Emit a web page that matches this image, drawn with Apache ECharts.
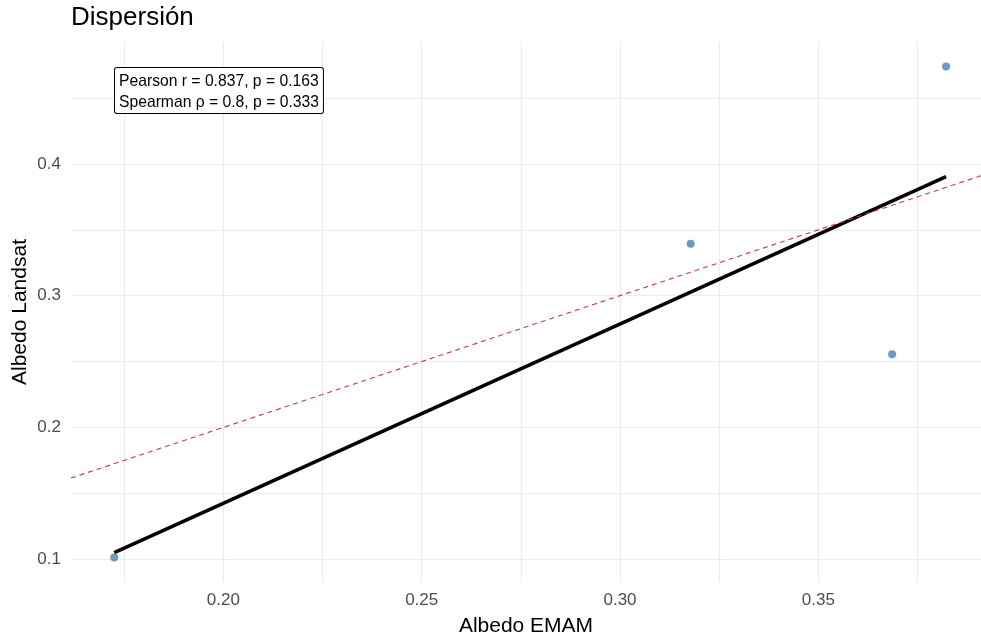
<!DOCTYPE html>
<html><head><meta charset="utf-8">
<script src="https://cdn.jsdelivr.net/npm/echarts@6/dist/echarts.min.js"></script>
<style>html,body{margin:0;padding:0;background:#fff}#c{width:981px;height:638px}</style>
</head><body><div id="c"></div>
<script>
// ---- data ----
const albedoEMAM    = [0.1725, 0.3178, 0.3686, 0.3822];
const albedoLandsat = [0.1013, 0.3393, 0.2555, 0.4739];
const xTickValues  = [0.175, 0.200, 0.225, 0.250, 0.275, 0.300, 0.325, 0.350, 0.375];
const xLabelValues = [0.20, 0.25, 0.30, 0.35];
const yTickValues  = [0.10, 0.15, 0.20, 0.25, 0.30, 0.35, 0.40, 0.45];
const yLabelValues = [0.1, 0.2, 0.3, 0.4];
const xRange = [0.1616, 0.3910];
const yRange = [0.0827, 0.4925];
const annotationLines = ['Pearson r = 0.837, p = 0.163', 'Spearman \u03c1 = 0.8, p = 0.333'];

// least-squares fit (geom_smooth method = "lm")
const n = albedoEMAM.length;
const mx = albedoEMAM.reduce((a, b) => a + b, 0) / n;
const my = albedoLandsat.reduce((a, b) => a + b, 0) / n;
let sxy = 0, sxx = 0;
for (let i = 0; i < n; i++) {
  sxy += (albedoEMAM[i] - mx) * (albedoLandsat[i] - my);
  sxx += (albedoEMAM[i] - mx) ** 2;
}
const slope = sxy / sxx, intercept = my - slope * mx;
const fitX = [Math.min(...albedoEMAM), Math.max(...albedoEMAM)];
const fitData = fitX.map(x => [x, intercept + slope * x]);
const identityData = xRange.map(v => [v, v]);
const points = albedoEMAM.map((x, i) => [x, albedoLandsat[i]]);

const FONT = '"Liberation Sans", Arial, sans-serif';
const chart = echarts.init(document.getElementById('c'), null, {renderer: 'canvas'});
chart.setOption({
  animation: false,
  backgroundColor: '#fff',
  title: {
    text: 'Dispersi\u00f3n', left: 71, top: 5, padding: 0,
    textStyle: {fontSize: 26, fontWeight: 'normal', color: '#000', fontFamily: FONT}
  },
  grid: {left: 71, right: 0, top: 42, bottom: 56, containLabel: false, outerBoundsMode: 'none'},
  xAxis: {
    type: 'value', min: xRange[0], max: xRange[1],
    name: 'Albedo EMAM', nameLocation: 'middle', nameGap: 34, nameMoveOverlap: false,
    nameTextStyle: {fontSize: 21, color: '#000', fontFamily: FONT},
    axisLine: {show: false},
    axisTick: {show: false, customValues: xTickValues},
    axisLabel: {customValues: xLabelValues, formatter: v => v.toFixed(2), fontSize: 17, color: '#4d4d4d', margin: 10, fontFamily: FONT},
    splitLine: {show: true, lineStyle: {color: '#ebebeb', width: 1.2}}
  },
  yAxis: {
    type: 'value', min: yRange[0], max: yRange[1],
    name: 'Albedo Landsat', nameLocation: 'middle', nameGap: 40, nameMoveOverlap: false,
    nameTextStyle: {fontSize: 21, color: '#000', fontFamily: FONT},
    axisLine: {show: false},
    axisTick: {show: false, customValues: yTickValues},
    axisLabel: {customValues: yLabelValues, formatter: v => v.toFixed(1), fontSize: 17, color: '#4d4d4d', margin: 10, fontFamily: FONT},
    splitLine: {show: true, lineStyle: {color: '#ebebeb', width: 1.2}}
  },
  graphic: [{
    type: 'text', left: 114, top: 67, z: 100,
    style: {
      text: annotationLines.join('\n'), font: '15.7px ' + FONT, fill: '#000',
      backgroundColor: '#fff', borderColor: '#000', borderWidth: 1, borderRadius: 2,
      padding: [3, 4, 0, 4], lineHeight: 21
    }
  }],
  series: [
    {type: 'scatter', data: points, symbolSize: 8, itemStyle: {color: 'steelblue', opacity: 0.8}, z: 2},
    {type: 'line', data: fitData, showSymbol: false, lineStyle: {color: '#000', width: 3.5}, z: 3},
    {type: 'line', data: identityData, showSymbol: false, lineStyle: {color: '#c43c3c', width: 1.1, type: [5, 4]}, z: 4}
  ]
});
</script></body></html>
